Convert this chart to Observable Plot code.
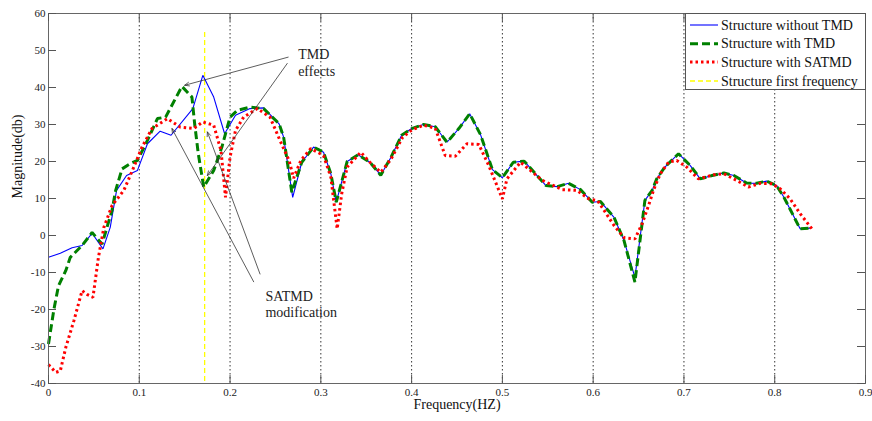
<!DOCTYPE html>
<html><head><meta charset="utf-8">
<script src="https://cdn.jsdelivr.net/npm/d3@7"></script>
<script src="https://cdn.jsdelivr.net/npm/@observablehq/plot@0.6"></script>
<style>
body{margin:0;background:#fff;}
#wrap{position:relative;width:872px;height:421px;}
#legend{position:absolute;left:685px;top:13px;width:181px;height:77px;border:1px solid #555;background:#fff;box-sizing:border-box;}
#legend svg{position:absolute;left:0;top:0;}
</style></head><body><div id="wrap"></div>
<script>
// ---- data ----
const blueFreq = [0,0.013,0.026,0.037,0.048,0.060,0.068,0.075,0.086,0.098,0.109,0.123,0.135,0.159,0.170,0.182,0.194,0.206,0.222,0.237,0.254,0.259,0.269,0.279,0.292,0.303,0.311,0.317,0.329,0.341,0.354,0.366,0.377,0.389,0.400,0.413,0.426,0.439,0.452,0.464,0.476,0.489,0.500,0.512,0.524,0.548,0.560,0.573,0.586,0.599,0.608,0.623,0.634,0.646,0.657,0.665,0.670,0.679,0.694,0.707,0.718,0.731,0.744,0.755,0.769,0.780,0.791,0.802,0.810,0.828,0.839];
const blueMag = [-5.9,-4.8,-3.3,-2.7,0.6,-3.6,2.2,12.2,16.2,17.6,24.8,28.2,27.1,34.3,43.3,37.4,27.5,32.5,34.3,34.5,30.2,26.6,10.3,19.8,23.9,22.5,16.7,9.0,20.0,21.8,19.8,16.3,21.0,27.1,28.9,30.0,29.4,25.2,28.9,32.9,27.2,17.8,15.6,19.8,20.1,13.5,13.2,14.1,12.4,9.0,9.2,4.9,-1.4,-11.3,9.5,12.2,15.3,18.5,22.1,18.9,15.3,16.2,16.9,16.2,14.2,14.1,14.7,13.5,10.4,1.8,2.0];

const greenFreq = [0,0.006,0.011,0.019,0.024,0.037,0.048,0.059,0.070,0.074,0.081,0.090,0.098,0.109,0.120,0.129,0.147,0.158,0.161,0.165,0.171,0.182,0.191,0.200,0.208,0.222,0.237,0.254,0.259,0.268,0.279,0.292,0.303,0.311,0.317,0.329,0.341,0.354,0.366,0.377,0.389,0.400,0.413,0.426,0.439,0.452,0.464,0.476,0.489,0.500,0.512,0.524,0.548,0.560,0.573,0.586,0.599,0.608,0.623,0.634,0.646,0.657,0.665,0.670,0.679,0.694,0.707,0.718,0.731,0.744,0.755,0.769,0.780,0.791,0.802,0.810,0.828,0.839];
const greenMag = [-29.3,-19.9,-13.6,-9.5,-5.9,-2.7,0.8,-2.3,6.8,12.2,18.0,19.4,20.3,25.7,31.6,32.0,40.3,37.4,30.2,22.1,13.1,17.6,23.9,32.0,33.8,34.7,34.3,30.2,26.6,11.7,19.8,23.9,22.5,16.7,9.0,20.0,21.8,19.8,16.3,21.0,27.1,28.9,30.0,29.4,25.2,28.9,32.9,27.2,17.8,15.6,19.8,20.1,13.5,13.2,14.1,12.4,9.0,9.2,4.9,-1.4,-12.6,9.5,12.2,15.3,18.5,22.1,18.9,15.3,16.2,16.9,16.2,14.2,14.1,14.7,13.5,10.4,1.8,2.0];

const redFreq = [0,0.008,0.013,0.019,0.028,0.037,0.043,0.049,0.055,0.061,0.070,0.083,0.094,0.103,0.114,0.131,0.145,0.160,0.170,0.182,0.190,0.195,0.200,0.206,0.215,0.230,0.244,0.255,0.265,0.270,0.278,0.289,0.303,0.311,0.318,0.323,0.329,0.344,0.354,0.366,0.377,0.390,0.400,0.413,0.426,0.437,0.448,0.461,0.474,0.485,0.500,0.505,0.520,0.544,0.566,0.582,0.595,0.605,0.612,0.623,0.634,0.646,0.654,0.661,0.667,0.674,0.683,0.692,0.703,0.716,0.733,0.744,0.758,0.771,0.784,0.797,0.806,0.817,0.828,0.841];
const redMag = [-34.9,-37.0,-36.6,-30.3,-23.0,-14.9,-16.0,-16.7,-5.9,2.2,8.1,12.2,18.5,23.9,28.9,31.6,29.3,28.9,30.7,29.8,23.0,10.3,21.2,28.4,32.0,34.3,32.0,25.7,20.3,15.5,20.3,23.5,21.6,15.8,1.8,11.3,18.5,22.5,19.8,17.1,20.5,26.5,28.5,29.8,29.0,21.6,21.4,24.8,24.6,18.9,9.9,15.3,19.8,14.9,12.4,12.2,9.9,9.4,6.8,2.7,-0.6,-0.9,3.2,8.1,12.6,16.7,19.8,20.3,18.5,15.3,16.4,16.7,14.9,13.1,14.1,14.0,12.6,9.9,5.9,1.8];

const firstFreq = [0.172];
const firstFreqSpan = [55, -40];

const seriesNames = ["Structure without TMD","Structure with TMD","Structure with SATMD","Structure first frequency"];
const xTicks = [0,0.1,0.2,0.3,0.4,0.5,0.6,0.7,0.8,0.9];
const yTicks = [-40,-30,-20,-10,0,10,20,30,40,50,60];

// annotations
const arrowStartX = [0.264,0.263,0.226,0.233];
const arrowStartY = [48.2,46.5,-12.5,-10.4];
const arrowEndX = [0.150,0.175,0.136,0.175];
const arrowEndY = [40.6,16.2,28.9,28.0];
const noteText = ["TMD","effects","SATMD","modification"];
const noteX = [0.275,0.275,0.239,0.239];
const noteY = [49.0,44.4,-16.5,-20.9];

// ---- build ----
const toRows = (fx, fy) => fx.map((f,i)=>({f, m: fy[i]}));
const blue = toRows(blueFreq, blueMag);
const green = toRows(greenFreq, greenMag);
const red = toRows(redFreq, redMag);
const yellow = firstFreqSpan.map(m => ({f: firstFreq[0], m}));
const arrows = arrowStartX.map((x,i)=>({x1:x,y1:arrowStartY[i],x2:arrowEndX[i],y2:arrowEndY[i]}));
const notes = noteText.map((t,i)=>({t,x:noteX[i],y:noteY[i]}));

const W = 872, H = 421, mL = 48, mR = 7, mT = 13, mB = 38;
const pw = W - mL - mR, ph = H - mT - mB;
const font = '"Liberation Serif","Times New Roman",serif';
const fmt = d => String(+d.toFixed(1));

const styles = [
  {stroke: "#0000ff", strokeWidth: 1.1, strokeDasharray: null},
  {stroke: "#008000", strokeWidth: 3, strokeDasharray: "8,4"},
  {stroke: "#ff0000", strokeWidth: 3, strokeDasharray: "2.5,3"},
  {stroke: "#ffff00", strokeWidth: 1.3, strokeDasharray: "5,3"}
];
const lineOpts = s => ({x: "f", y: "m", stroke: s.stroke, strokeWidth: s.strokeWidth, strokeDasharray: s.strokeDasharray, strokeLinecap: "butt", strokeLinejoin: "miter"});

const chart = Plot.plot({
  width: W, height: H,
  marginLeft: mL, marginRight: mR, marginTop: mT, marginBottom: mB,
  style: {fontFamily: font, background: "#fff", overflow: "visible"},
  x: {domain: [0, 0.9]},
  y: {domain: [-40, 60]},
  marks: [
    Plot.ruleX(xTicks.slice(1, -1), {x: d => d, stroke: "#000", strokeWidth: 0.8, strokeDasharray: "1.5,2.5"}),
    Plot.line(yellow, lineOpts(styles[3])),
    Plot.line(blue, lineOpts(styles[0])),
    Plot.line(green, lineOpts(styles[1])),
    Plot.line(red, lineOpts(styles[2])),
    Plot.arrow(arrows, {x1: "x1", y1: "y1", x2: "x2", y2: "y2", stroke: "#333", strokeWidth: 0.8, headLength: 9, headAngle: 45}),
    Plot.text(notes, {x: "x", y: "y", text: "t", textAnchor: "start", fontSize: 14, fill: "#222"}),
    Plot.frame({stroke: "#666", strokeWidth: 1}),
    Plot.tickX(xTicks, {x: d => d, insetTop: ph - 8, stroke: "#555"}),
    Plot.tickX(xTicks, {x: d => d, insetBottom: ph - 8, stroke: "#555"}),
    Plot.tickY(yTicks, {y: d => d, insetRight: pw - 8, stroke: "#555"}),
    Plot.tickY(yTicks, {y: d => d, insetLeft: pw - 8, stroke: "#555"}),
    Plot.axisX(xTicks, {anchor: "bottom", tickSize: 0, tickPadding: 5, tickFormat: fmt, fontSize: 11, fill: "#222", label: null}),
    Plot.axisY(yTicks, {anchor: "left", tickSize: 0, tickPadding: 3, tickFormat: fmt, fontSize: 11, fill: "#222", label: null}),
    Plot.text(["Frequency(HZ)"], {frameAnchor: "bottom", dy: 25, fontSize: 14, fill: "#111"}),
    Plot.text(["Magnitude(db)"], {frameAnchor: "left", dx: -31, rotate: -90, fontSize: 14, fill: "#111"})
  ]
});

const wrap = document.getElementById("wrap");
wrap.appendChild(chart);

// legend (inside plot, top-right)
const legend = document.createElement("div");
legend.id = "legend";
const rowCenters = [11, 29.7, 48, 67];
let svg = `<svg width="181" height="77" style="font-family:${font.replace(/"/g,"'")};font-size:14px">`;
seriesNames.forEach((name, i) => {
  const s = styles[i];
  const cy = rowCenters[i];
  svg += `<line x1="4" y1="${cy}" x2="32" y2="${cy}" stroke="${s.stroke}" stroke-width="${s.strokeWidth}" ${s.strokeDasharray ? `stroke-dasharray="${s.strokeDasharray}"` : ""}/>`;
  svg += `<text x="35" y="${cy + 4.5}" fill="#111">${name}</text>`;
});
svg += `</svg>`;
legend.innerHTML = svg;
wrap.appendChild(legend);
</script>
</body></html>
